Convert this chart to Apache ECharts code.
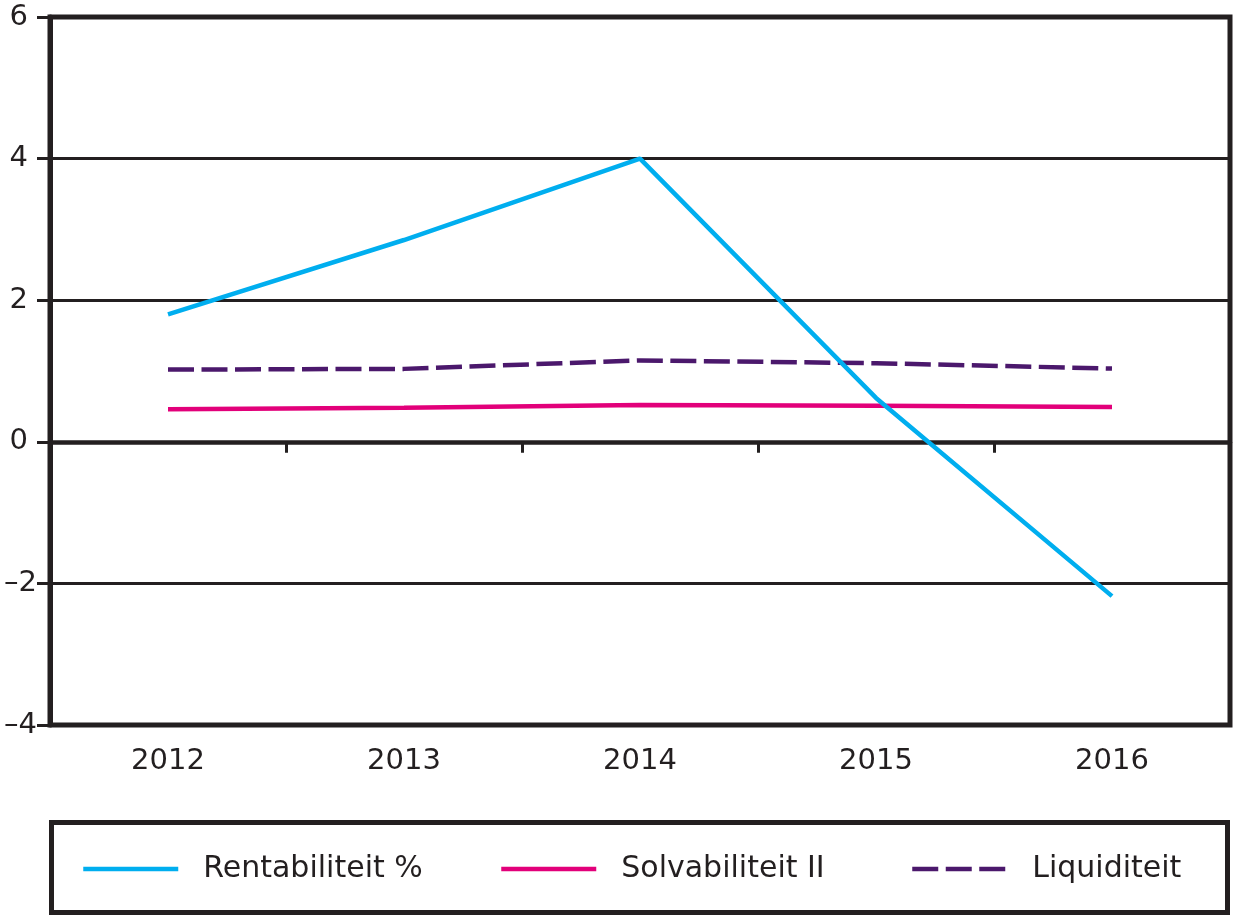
<!DOCTYPE html>
<html>
<head>
<meta charset="utf-8">
<script src="https://cdn.jsdelivr.net/npm/echarts@6/dist/echarts.min.js"></script>
<style>
  html, body { margin: 0; padding: 0; background: #ffffff; }
  #chart { width: 1233px; height: 917px; }
</style>
</head>
<body>
<div id="chart"></div>
<script>
const years = ['2012', '2013', '2014', '2015', '2016'];
const rentabiliteit = [1.8, 2.85, 4.0, 0.62, -2.18];
const solvabiliteit = [0.46, 0.48, 0.52, 0.51, 0.49];
const liquiditeit = [1.02, 1.03, 1.15, 1.11, 1.035];
const seriesNames = ['Rentabiliteit %', 'Solvabiliteit II', 'Liquiditeit'];
const yTicks = { min: -4, max: 6, interval: 2 };

const ink = '#231F20';
const font = 'DejaVu Sans';
const colors = ['#00AEEF', '#E2007A', '#4B186C'];

const chart = echarts.init(document.getElementById('chart'), null, { renderer: 'canvas' });

const legendBase = {
  top: 849,
  itemWidth: 95,
  itemHeight: 14,
  itemStyle: { opacity: 0, borderWidth: 0 },
  lineStyle: { width: 4.5 },
  textStyle: { fontFamily: font, fontSize: 30, color: ink, padding: [0, 0, 0, 20] },
  selectedMode: false
};

const yBase = {
  type: 'value',
  position: 'left',
  min: yTicks.min, max: yTicks.max, interval: yTicks.interval
};

chart.setOption({
  animation: false,
  backgroundColor: '#ffffff',
  grid: {
    left: 50, right: 3, top: 17, bottom: 192,
    containLabel: false, outerBoundsMode: 'none',
    show: true, borderColor: ink, borderWidth: 5, backgroundColor: 'transparent'
  },
  legend: [
    Object.assign({}, legendBase, { left: 76, data: [seriesNames[0]] }),
    Object.assign({}, legendBase, { left: 494, data: [seriesNames[1]] }),
    Object.assign({}, legendBase, { left: 905, data: [seriesNames[2]] })
  ],
  graphic: [{
    type: 'rect',
    shape: { x: 51.5, y: 822.5, width: 1176, height: 90 },
    style: { fill: 'none', stroke: ink, lineWidth: 5 },
    silent: true
  }],
  xAxis: [
    {
      type: 'category',
      data: years,
      position: 'bottom',
      boundaryGap: true,
      axisLine: { show: true, onZero: true, lineStyle: { color: ink, width: 4.5 } },
      axisTick: { show: true, inside: false, length: 11, lineStyle: { color: ink, width: 3 } },
      axisLabel: { show: false },
      splitLine: { show: false }
    },
    {
      type: 'category',
      data: years,
      position: 'bottom',
      boundaryGap: true,
      axisLine: { show: false, onZero: false },
      axisTick: { show: false },
      axisLabel: { show: true, margin: 22, fontFamily: font, fontSize: 29, color: ink },
      splitLine: { show: false }
    }
  ],
  yAxis: [
    Object.assign({}, yBase, {
      axisLine: { show: true, onZero: false, lineStyle: { color: ink, width: 5 } },
      axisTick: { show: true, inside: false, length: 13, lineStyle: { color: ink, width: 3 } },
      axisLabel: {
        margin: 22, fontFamily: font, fontSize: 29, color: ink,
        formatter: v => (v < 0 ? '' : String(v))
      },
      splitLine: { show: true, lineStyle: { color: ink, width: 3 } }
    }),
    Object.assign({}, yBase, {
      axisLine: { show: false, onZero: false },
      axisTick: { show: false },
      axisLabel: {
        margin: 13, fontFamily: font, fontSize: 29, color: ink,
        formatter: v => (v < 0 ? '\u2013' + String(Math.abs(v)) : '')
      },
      splitLine: { show: false }
    })
  ],
  series: [
    {
      name: seriesNames[0], type: 'line', data: rentabiliteit, xAxisIndex: 0, yAxisIndex: 0,
      symbol: 'none', color: colors[0],
      lineStyle: { color: colors[0], width: 4.5 }, z: 5
    },
    {
      name: seriesNames[1], type: 'line', data: solvabiliteit, xAxisIndex: 0, yAxisIndex: 0,
      symbol: 'none', color: colors[1],
      lineStyle: { color: colors[1], width: 4.5 }, z: 4
    },
    {
      name: seriesNames[2], type: 'line', data: liquiditeit, xAxisIndex: 0, yAxisIndex: 0,
      symbol: 'none', color: colors[2],
      lineStyle: { color: colors[2], width: 4.5, type: [26, 7.5] }, z: 3
    }
  ]
});
</script>
</body>
</html>
